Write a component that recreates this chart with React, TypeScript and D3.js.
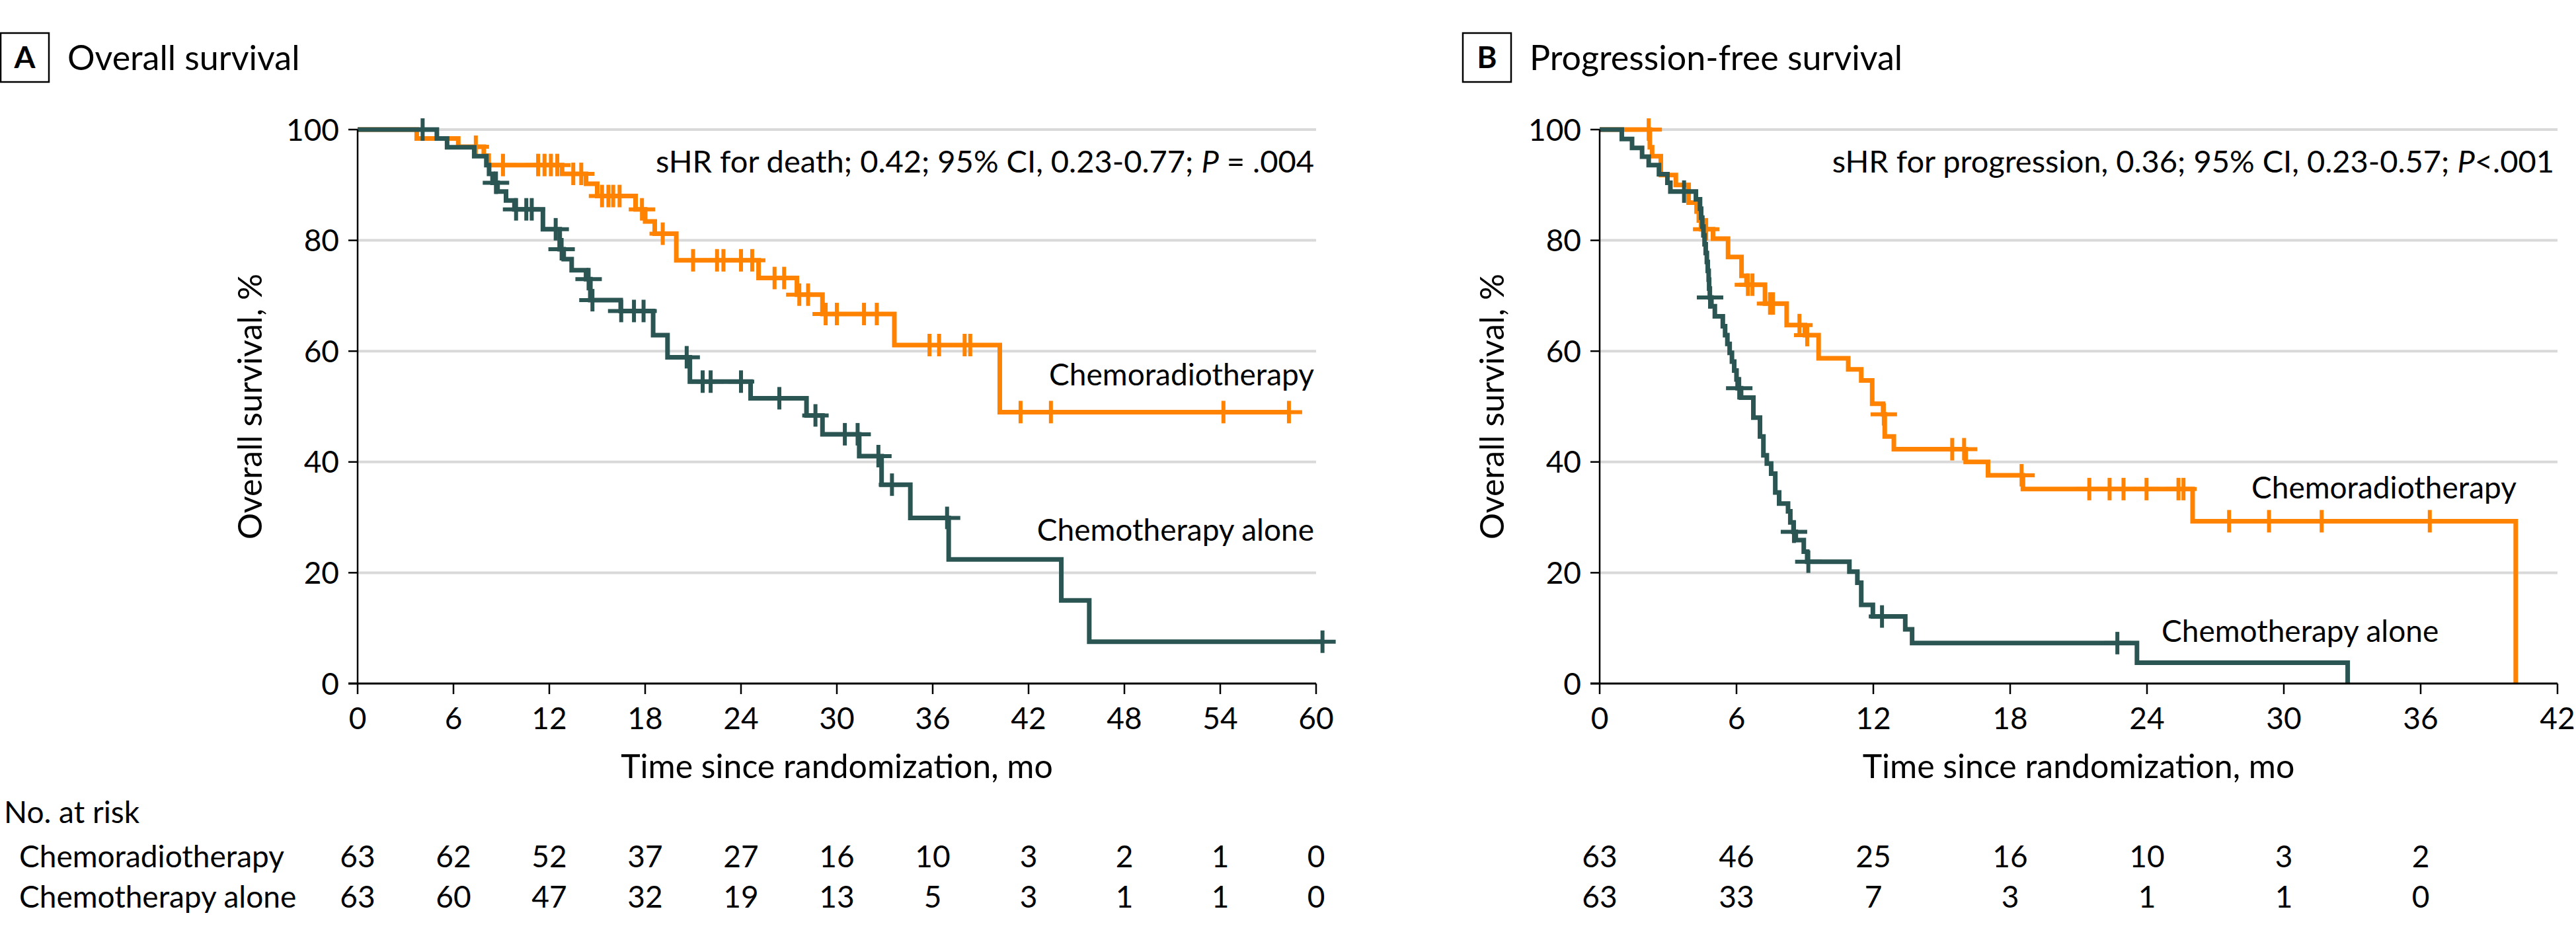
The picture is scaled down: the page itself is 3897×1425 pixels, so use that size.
import React from 'react';
import * as d3 from 'd3';

const ORANGE = '#ff8200';
const TEAL = '#2b5553';
const GRID = '#d9d9d9';
const FONT = 'Lato, "Open Sans", sans-serif';

// ---------- Panel A: overall survival ----------
const osTicks = [0, 6, 12, 18, 24, 30, 36, 42, 48, 54, 60];
const osCrtSteps: [number, number][] = [
  [0, 100], [3.7, 98.4], [6.3, 96.9], [7.9, 95.3], [8.2, 93.6], [12.8, 92.0], [14.3, 90.2],
  [15.0, 88.0], [17.4, 85.6], [18.0, 83.4], [18.6, 81.2], [19.95, 76.4], [25.1, 73.2],
  [27.5, 70.2], [29.1, 66.7], [33.6, 61.1], [40.2, 49.0],
];
const osCrtCensor = [7.4, 9.1, 11.3, 11.7, 12.1, 12.5, 13.5, 14.0, 15.3, 15.7, 16.0, 16.4, 17.8, 19.1,
  21.0, 22.5, 22.9, 24.0, 24.7, 26.1, 26.7, 27.65, 28.2, 29.3, 30.0, 31.7, 32.5, 35.8, 36.4, 38.0,
  38.35, 41.5, 43.4, 54.2, 58.3];
const osCrtEnd = 58.3;
const osCtSteps: [number, number][] = [
  [0, 100], [4.96, 98.4], [5.6, 96.8], [7.3, 95.2], [8.06, 93.6], [8.23, 92.0], [8.45, 90.4],
  [8.76, 88.8], [9.29, 87.2], [9.82, 85.6], [11.6, 82.0], [12.65, 78.4], [12.9, 76.6], [13.4, 74.6],
  [14.3, 73.0], [14.57, 69.2], [16.47, 67.25], [18.5, 62.9], [19.4, 58.9], [20.8, 54.5], [24.6, 51.5],
  [28.1, 48.4], [29.1, 45.0], [31.4, 41.05], [32.8, 35.9], [34.6, 29.9], [37.0, 22.4], [44.05, 15.0],
  [45.8, 7.55],
];
const osCtCensor = [4.07, 8.66, 9.92, 10.56, 10.9, 12.4, 12.77, 14.46, 14.7, 16.5, 17.3, 17.9, 20.6,
  21.6, 22.1, 24.0, 26.4, 28.66, 30.5, 31.3, 32.6, 33.45, 36.9, 60.4];
const osCtEnd = 60.4;
const osRiskCrt = [63, 62, 52, 37, 27, 16, 10, 3, 2, 1, 0];
const osRiskCt = [63, 60, 47, 32, 19, 13, 5, 3, 1, 1, 0];

// ---------- Panel B: progression-free survival ----------
const pfsTicks = [0, 6, 12, 18, 24, 30, 36, 42];
const pfsCrtSteps: [number, number][] = [
  [0, 100], [2.2, 96.8], [2.3, 95.2], [2.68, 91.8], [3.34, 90.0], [3.9, 86.8], [4.25, 85.2],
  [4.35, 83.6], [4.45, 82.0], [4.97, 80.3], [5.63, 77.0], [6.22, 73.6], [6.44, 72.0], [7.25, 68.6],
  [8.2, 64.7], [9.0, 62.9], [9.6, 58.7], [10.9, 56.7], [11.47, 54.7], [11.95, 50.5], [12.43, 48.6],
  [12.5, 44.6], [12.9, 42.3], [16.05, 40.0], [17.03, 37.6], [18.56, 35.1], [26.0, 29.3], [40.17, 0],
];
const pfsCrtCensor = [2.15, 4.67, 6.5, 6.7, 7.47, 7.6, 8.76, 9.1, 12.46, 15.46, 15.98, 18.5, 21.47,
  22.36, 22.97, 23.98, 25.38, 25.6, 27.6, 29.35, 31.66, 36.4];
const pfsCrtEnd = 40.17;
const pfsCtSteps: [number, number][] = [
  [0, 100], [0.97, 98.3], [1.42, 96.7], [1.86, 95.1], [2.15, 93.6], [2.6, 91.95], [2.97, 90.4],
  [3.1, 88.8], [4.22, 87.4], [4.4, 85.7], [4.45, 84.1], [4.5, 82.5], [4.55, 80.9], [4.6, 79.3],
  [4.65, 77.7], [4.7, 76.1], [4.74, 74.5], [4.78, 72.9], [4.8, 71.3], [4.83, 69.7], [4.9, 68.1],
  [5.05, 66.3], [5.4, 64.5], [5.5, 62.9], [5.6, 61.3], [5.7, 59.7], [5.8, 58.1], [5.9, 56.5],
  [6.0, 54.9], [6.05, 53.3], [6.2, 51.6], [6.74, 48.0], [7.03, 44.6], [7.18, 41.2], [7.33, 39.7],
  [7.52, 37.9], [7.7, 34.5], [7.87, 32.5], [8.26, 31.1], [8.36, 29.1], [8.5, 27.4], [8.6, 25.9],
  [8.95, 23.8], [9.1, 22.0], [10.95, 20.2], [11.3, 18.2], [11.47, 14.2], [11.98, 12.1], [13.4, 9.8],
  [13.7, 7.3], [23.56, 3.75], [32.8, 0],
];
const pfsCtCensor = [3.7, 4.84, 6.12, 8.52, 9.15, 12.38, 22.7];
const pfsCtEnd = 32.8;
const pfsRiskCrt = [63, 46, 25, 16, 10, 3, 2];
const pfsRiskCt = [63, 33, 7, 3, 1, 1, 0];

const yTicks = [0, 20, 40, 60, 80, 100];

function valueAt(steps: [number, number][], t: number) {
  let v = steps[0][1];
  for (const [st, sv] of steps) if (st <= t) v = sv;
  return v;
}

type Curve = { steps: [number, number][]; censor: number[]; end: number; color: string };

function Panel(props: {
  x0: number; x1: number; xMax: number; ticks: number[]; curves: Curve[];
  letter: string; title: string; boxX: number;
  note: React.ReactNode; noteX: number;
  labels: { text: string; x: number; y: number; anchor: string }[];
  risk: number[][]; rowLabels: boolean;
}) {
  const x = d3.scaleLinear().domain([0, props.xMax]).range([props.x0, props.x1]);
  const y = d3.scaleLinear().domain([0, 100]).range([1034, 196]);
  const line = d3.line<[number, number]>().x(d => x(d[0])).y(d => y(d[1])).curve(d3.curveStepAfter);
  const fs = 46;
  return (
    <g fontFamily={FONT}>
      <rect x={props.boxX} y={50} width={73} height={74} fill="none" stroke="#000" strokeWidth={2.5} />
      <text x={props.boxX + 36.5} y={103} fontSize={46} fontWeight="bold" textAnchor="middle">{props.letter}</text>
      <text x={props.boxX + 101} y={106} fontSize={52}>{props.title}</text>
      {yTicks.filter(v => v > 0).map(v => (
        <line key={'g' + v} x1={props.x0} x2={props.x1} y1={y(v)} y2={y(v)} stroke={GRID} strokeWidth={4} />
      ))}
      {props.curves.map((c, i) => {
        const pts = [...c.steps, [c.end, c.steps[c.steps.length - 1][1]] as [number, number]];
        return (
          <g key={'c' + i}>
            <path d={line(pts) || ''} fill="none" stroke={c.color} strokeWidth={7} />
            {c.censor.map((t, j) => {
              const cx = x(t), cy = y(valueAt(c.steps, t));
              return (
                <g key={j} stroke={c.color} strokeWidth={6}>
                  <line x1={cx} x2={cx} y1={cy - 17} y2={cy + 17} />
                  <line x1={cx - 20} x2={cx + 20} y1={cy} y2={cy} />
                </g>
              );
            })}
          </g>
        );
      })}
      <line x1={props.x0} x2={props.x0} y1={y(100)} y2={y(0)} stroke="#000" strokeWidth={2.5} />
      <line x1={props.x0 - 14} x2={props.x1} y1={y(0)} y2={y(0)} stroke="#000" strokeWidth={3} />
      {yTicks.map(v => (
        <g key={'y' + v}>
          <line x1={props.x0 - 14} x2={props.x0} y1={y(v)} y2={y(v)} stroke="#000" strokeWidth={2.5} />
          <text x={props.x0 - 28} y={y(v) + 16.5} fontSize={fs} textAnchor="end">{v}</text>
        </g>
      ))}
      {props.ticks.map(t => (
        <g key={'x' + t}>
          <line x1={x(t)} x2={x(t)} y1={y(0)} y2={y(0) + 16} stroke="#000" strokeWidth={2.5} />
          <text x={x(t)} y={1103} fontSize={fs} textAnchor="middle">{t}</text>
        </g>
      ))}
      <text x={(props.x0 + props.x1) / 2} y={1177} fontSize={50} textAnchor="middle">Time since randomization, mo</text>
      <text transform={`translate(${props.x0 - 145},${(y(0) + y(100)) / 2}) rotate(-90)`} fontSize={50} textAnchor="middle">Overall survival, %</text>
      <text x={props.noteX} y={261} fontSize={47} textAnchor="end">{props.note}</text>
      {props.labels.map((l, i) => (
        <text key={'l' + i} x={l.x} y={l.y} fontSize={fs} textAnchor={l.anchor}>{l.text}</text>
      ))}
      {props.rowLabels && (
        <g fontSize={fs}>
          <text x={6} y={1245}>No. at risk</text>
          <text x={29} y={1312}>Chemoradiotherapy</text>
          <text x={29} y={1373}>Chemotherapy alone</text>
        </g>
      )}
      {props.risk.map((row, ri) => row.map((v, i) => (
        <text key={'r' + ri + '_' + i} x={x(props.ticks[i])} y={ri === 0 ? 1312 : 1373} fontSize={fs} textAnchor="middle">{v}</text>
      )))}
    </g>
  );
}

export default function App() {
  return (
    <svg width={3897} height={1425} style={{ position: 'absolute', left: 0, top: 0, background: '#fff' }}>
      <rect width={3897} height={1425} fill="#fff" />
      <Panel
        x0={541} x1={1991} xMax={60} ticks={osTicks}
        curves={[
          { steps: osCrtSteps, censor: osCrtCensor, end: osCrtEnd, color: ORANGE },
          { steps: osCtSteps, censor: osCtCensor, end: osCtEnd, color: TEAL },
        ]}
        letter="A" title="Overall survival" boxX={1}
        note={<>sHR for death; 0.42; 95% CI, 0.23-0.77; <tspan fontStyle="italic">P</tspan> = .004</>}
        noteX={1988}
        labels={[
          { text: 'Chemoradiotherapy', x: 1988, y: 583, anchor: 'end' },
          { text: 'Chemotherapy alone', x: 1988, y: 818, anchor: 'end' },
        ]}
        risk={[osRiskCrt, osRiskCt]} rowLabels={true}
      />
      <Panel
        x0={2420} x1={3869} xMax={42} ticks={pfsTicks}
        curves={[
          { steps: pfsCrtSteps, censor: pfsCrtCensor, end: pfsCrtEnd, color: ORANGE },
          { steps: pfsCtSteps, censor: pfsCtCensor, end: pfsCtEnd, color: TEAL },
        ]}
        letter="B" title="Progression-free survival" boxX={2213}
        note={<>sHR for progression, 0.36; 95% CI, 0.23-0.57; <tspan fontStyle="italic">P</tspan>&lt;.001</>}
        noteX={3864}
        labels={[
          { text: 'Chemoradiotherapy', x: 3406, y: 754, anchor: 'start' },
          { text: 'Chemotherapy alone', x: 3270, y: 971, anchor: 'start' },
        ]}
        risk={[pfsRiskCrt, pfsRiskCt]} rowLabels={false}
      />
    </svg>
  );
}
